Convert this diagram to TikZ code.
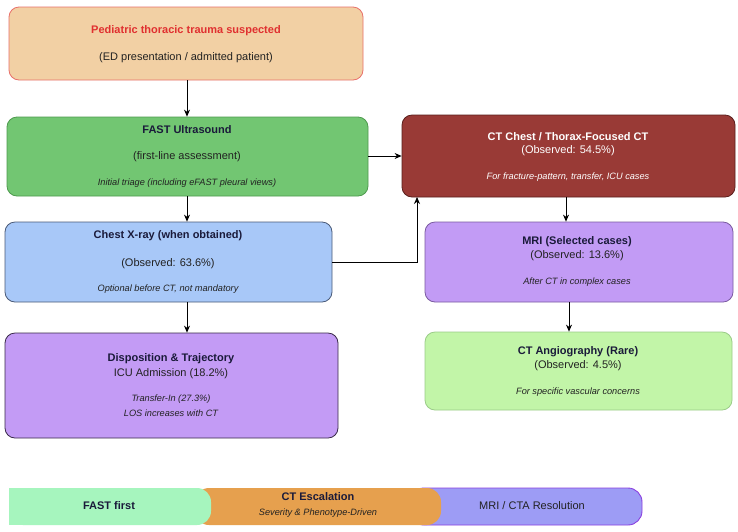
\documentclass[tikz,border=0pt]{standalone}
\usepackage{fontspec}
\setmainfont{Liberation Sans}
\usetikzlibrary{arrows.meta}
\definecolor{tanfill}{HTML}{F2D0A4}
\definecolor{tanline}{HTML}{E8706A}
\definecolor{redtxt}{HTML}{E03030}
\definecolor{fastfill}{HTML}{72C672}
\definecolor{fastline}{HTML}{4E9A4E}
\definecolor{xrfill}{HTML}{A8C8F8}
\definecolor{xrline}{HTML}{4A5A78}
\definecolor{dispfill}{HTML}{C39BF5}
\definecolor{displine}{HTML}{3A2A4A}
\definecolor{ctfill}{HTML}{993A36}
\definecolor{ctline}{HTML}{5A1E1C}
\definecolor{mrifill}{HTML}{C29BF5}
\definecolor{mriline}{HTML}{7A5AA0}
\definecolor{ctafill}{HTML}{C2F5A8}
\definecolor{ctaline}{HTML}{9ACC88}
\definecolor{bargreen}{HTML}{A6F5BE}
\definecolor{barorange}{HTML}{E6A04E}
\definecolor{barpurple}{HTML}{9D9CF5}
\definecolor{barpline}{HTML}{8A3FE0}
\definecolor{navy}{HTML}{1A1A3A}
\definecolor{txtc}{HTML}{222222}
\begin{document}
\begin{tikzpicture}[x=1pt,y=-1pt,
  box/.style={draw, line width=0.8pt, rounded corners=10pt, inner sep=0pt},
  ttl/.style={font=\fontsize{11}{13}\selectfont\bfseries, text=navy, inner sep=0pt},
  txt/.style={font=\fontsize{11}{13}\selectfont, text=txtc, inner sep=0pt},
  note/.style={font=\fontsize{9.2}{11}\selectfont\itshape, text=txtc, inner sep=0pt},
  arr/.style={-{Stealth[length=7pt,width=6pt]}, line width=0.8pt, black}]
\useasboundingbox (0,0) rectangle (738,531);
\fill[white] (0,0) rectangle (738,531);

% boxes
\node[box, fill=tanfill, draw=tanline, minimum width=354pt, minimum height=73pt] (start) at (186,43.5) {};
\node[ttl, text=redtxt] (startT) at (186,31) {Pediatric thoracic trauma suspected};
\node[txt] (startS) at (186,58) {(ED presentation / admitted patient)};

\node[box, fill=fastfill, draw=fastline, minimum width=361pt, minimum height=79pt] (fast) at (187.5,156.5) {};
\node[ttl] (fastT) at (187,130) {FAST Ultrasound};
\node[txt] (fastS) at (187,157) {(first-line assessment)};
\node[note] (fastN) at (187,183) {Initial triage (including eFAST pleural views)};

\node[box, fill=xrfill, draw=xrline, minimum width=327pt, minimum height=80pt] (xray) at (168.5,262) {};
\node[ttl] (xrayT) at (168,236) {Chest X-ray (when obtained)};
\node[txt] (xrayS) at (168,264) {(Observed: 63.6\%)};
\node[note] (xrayN) at (168,289) {Optional before CT, not mandatory};

\node[box, fill=dispfill, draw=displine, minimum width=333pt, minimum height=105pt] (disp) at (171.5,385.5) {};
\node[ttl] (dispT) at (171,359) {Disposition \& Trajectory};
\node[txt] (dispS) at (171,374) {ICU Admission (18.2\%)};
\node[note] (dispN1) at (171,399) {Transfer-In (27.3\%)};
\node[note] (dispN2) at (171,413) {LOS increases with CT};

\node[box, fill=ctfill, draw=ctline, minimum width=333pt, minimum height=82pt] (ct) at (568.5,156) {};
\node[ttl, text=white] (ctT) at (568,137) {CT Chest / Thorax-Focused CT};
\node[txt, text=white] (ctS) at (568,151) {(Observed: 54.5\%)};
\node[note, text=white] (ctN) at (568,177) {For fracture-pattern, transfer, ICU cases};

\node[box, fill=mrifill, draw=mriline, minimum width=308pt, minimum height=80pt] (mri) at (579,262) {};
\node[ttl] (mriT) at (577,242) {MRI (Selected cases)};
\node[txt] (mriS) at (577,256) {(Observed: 13.6\%)};
\node[note] (mriN) at (577,282) {After CT in complex cases};

\node[box, fill=ctafill, draw=ctaline, minimum width=307pt, minimum height=78pt] (cta) at (578.5,371) {};
\node[ttl] (ctaT) at (578,352) {CT Angiography (Rare)};
\node[txt] (ctaS) at (578,366) {(Observed: 4.5\%)};
\node[note] (ctaN) at (578,392) {For specific vascular concerns};

% connectors
\draw[arr] ([xshift=1pt]start.south) -- ([xshift=1pt]start.south |- fast.north);
\draw[arr] ([xshift=-0.5pt]fast.south) -- ([xshift=-0.5pt]fast.south |- xray.north);
\coordinate (xrdown) at (187,302);
\draw[arr] (xrdown) -- (xrdown |- disp.north);
\draw[arr] (fast.east |- ct.west) -- (ct.west);
\coordinate (ctin) at (417,197);
\draw[arr] (xray.east) -| (ctin);
\draw[arr] ([xshift=-2.5pt]ct.south) -- ([xshift=-2.5pt]ct.south |- mri.north);
\draw[arr] ([xshift=-10pt]mri.south) -- ([xshift=-10pt]mri.south |- cta.north);

% bottom phase bar
\filldraw[fill=barpurple, draw=barpline, line width=0.9pt, rounded corners=14pt] (410,488) rectangle (642,525);
\fill[barorange, rounded corners=14pt] (195,488) rectangle (441,525);
\fill[bargreen, rounded corners=14pt] (9,488) rectangle (211,525);
\fill[bargreen] (9,488) rectangle (40,525);
\node[ttl] (bar1) at (109,506) {FAST first};
\node[ttl] (bar2T) at (318,497) {CT Escalation};
\node[note] (bar2N) at (318,513) {Severity \& Phenotype-Driven};
\node[txt] (bar3) at (532,506) {MRI / CTA Resolution};
\end{tikzpicture}
\end{document}
